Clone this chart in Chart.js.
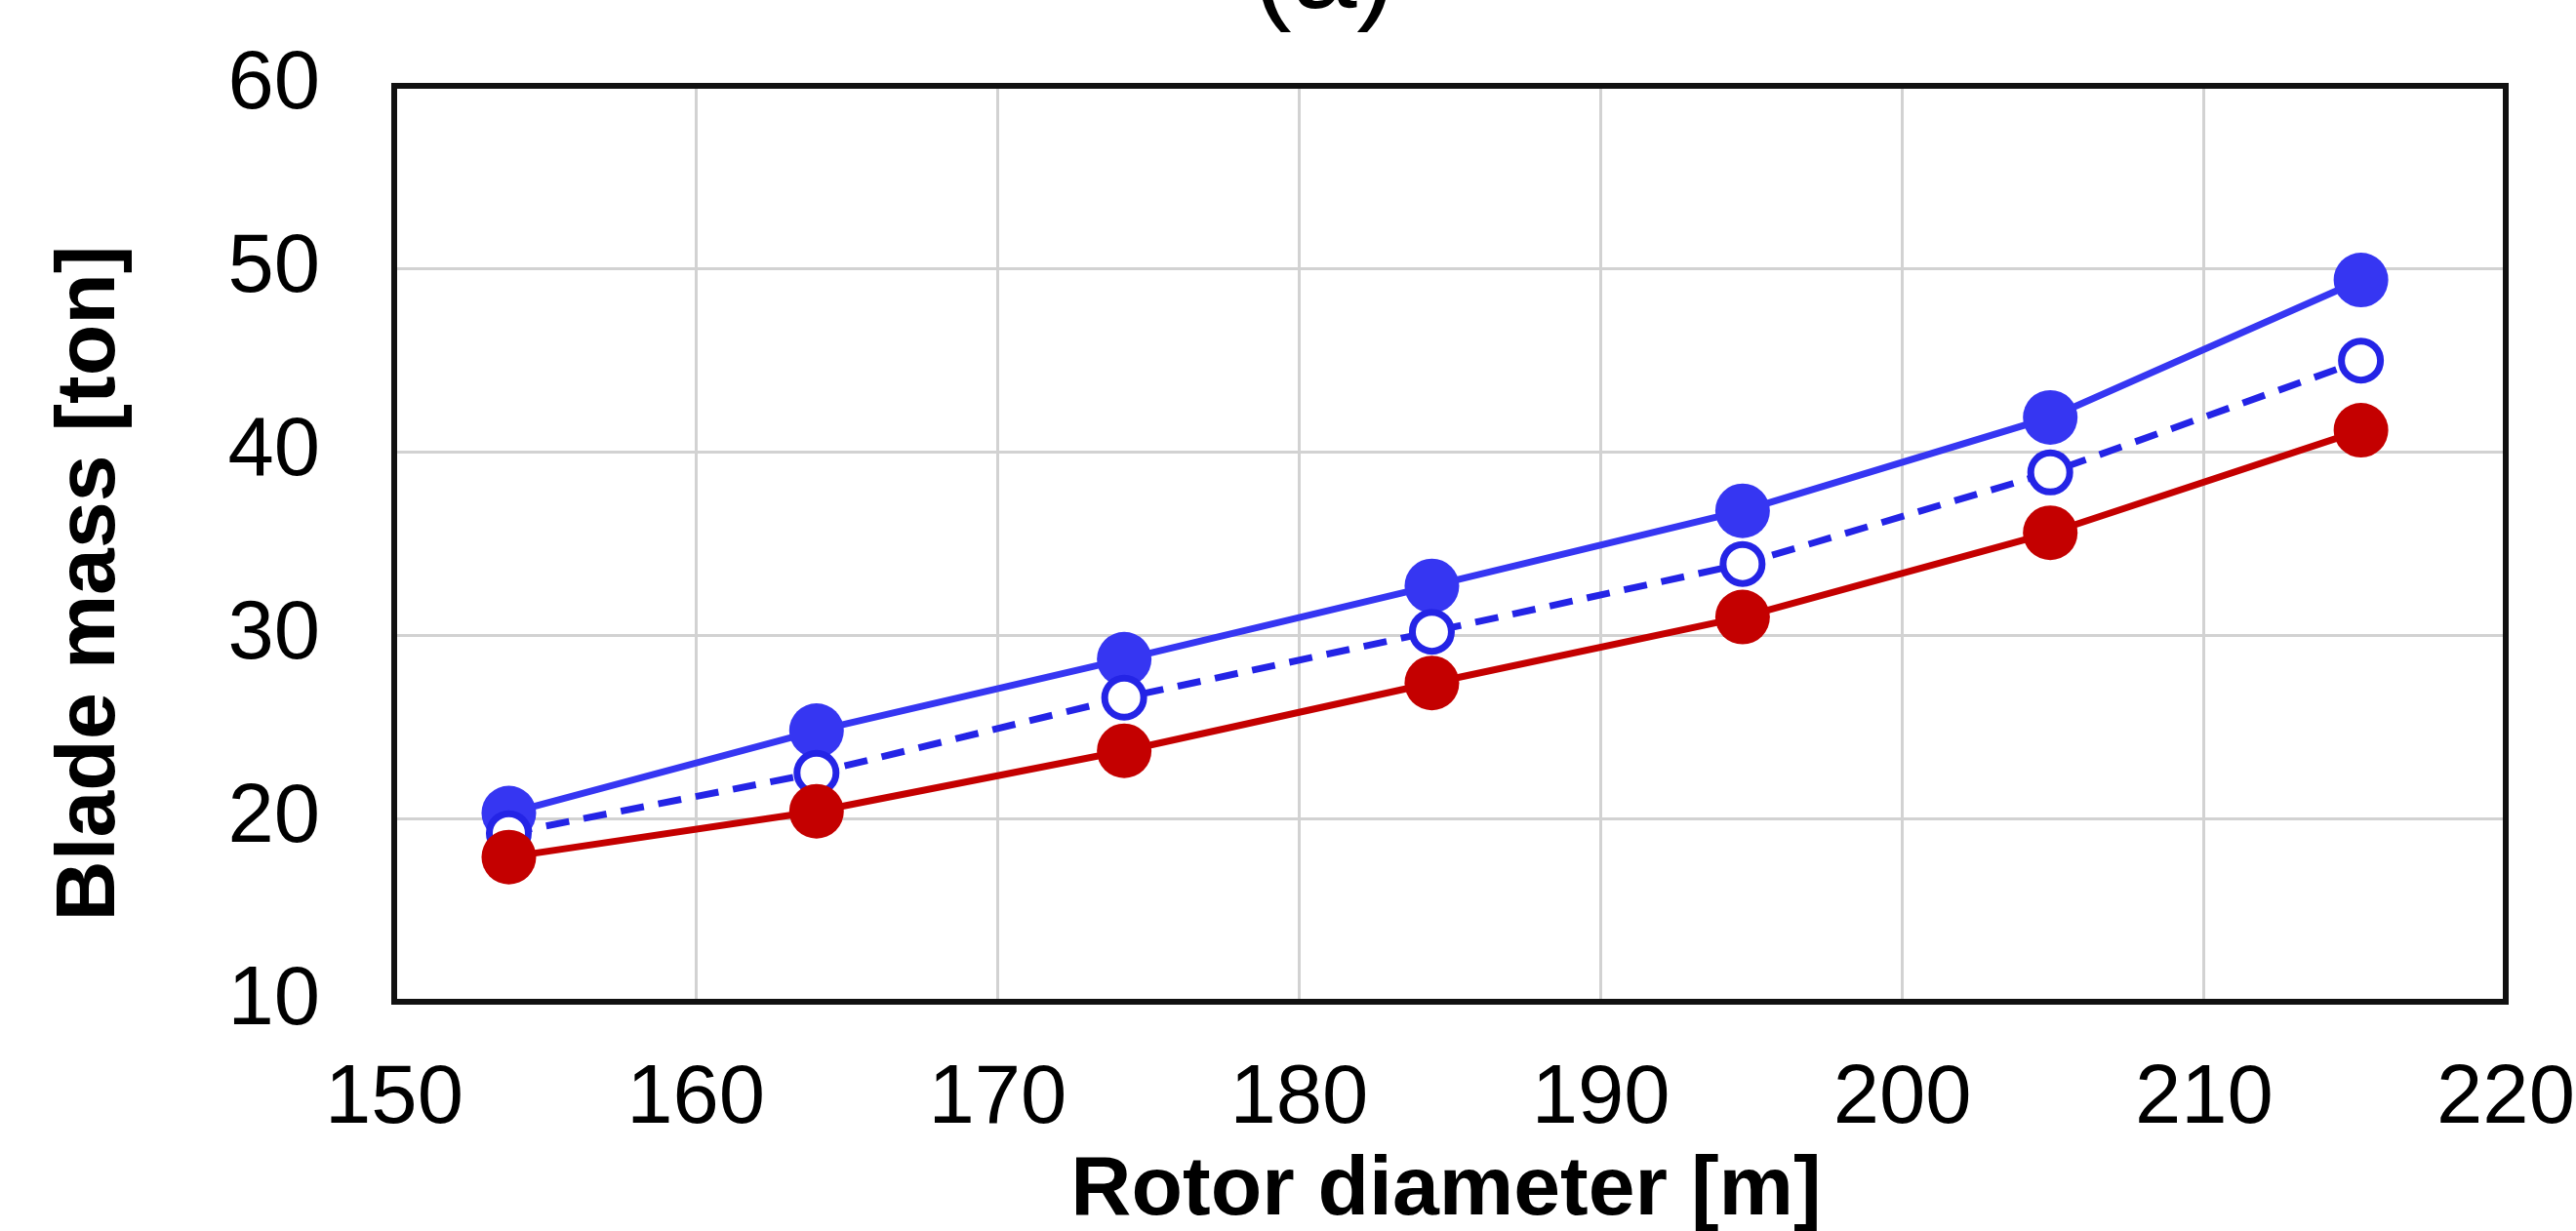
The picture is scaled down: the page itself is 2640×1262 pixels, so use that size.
<!DOCTYPE html>
<html>
<head>
<meta charset="utf-8">
<script src="https://cdn.jsdelivr.net/npm/chart.js@4.4.0/dist/chart.umd.min.js"></script>
<style>
  html, body { margin: 0; padding: 0; background: #fff; overflow: hidden; }
  .chart__wrapper { width: 2640px; height: 1262px; }
  canvas { display: block; }
</style>
</head>
<body>
<div class="chart__wrapper"><canvas id="blade-mass-chart" width="2640" height="1262"></canvas></div>
<script>
// values
const rotorDiameter = [153.8, 164.0, 174.2, 184.4, 194.7, 204.9, 215.2];
const massUpper = [20.3, 24.8, 28.7, 32.7, 36.8, 41.9, 49.4];
const massMiddle = [19.2, 22.5, 26.6, 30.2, 33.9, 38.9, 45.0];
const massLower = [17.9, 20.4, 23.7, 27.4, 31.0, 35.6, 41.2];
const xTicks = [150, 160, 170, 180, 190, 200, 210, 220];
const yTicks = [10, 20, 30, 40, 50, 60];
const panelLabel = "(a)";
const xTitle = "Rotor diameter [m]";
const yTitle = "Blade mass [ton]";

const FONT = "'Liberation Sans', Arial, Helvetica, sans-serif";

const colors = {
  blue: "rgba(54, 54, 242, 1)",
  blueDash: "rgba(36, 36, 230, 1)",
  red: "rgba(196, 0, 0, 1)",
  grid: "rgba(210, 210, 210, 1)",
  frame: "rgba(17, 17, 17, 1)",
  text: "rgba(0, 0, 0, 1)",
};

const toPoints = (ys) => rotorDiameter.map((x, i) => ({ x: x, y: ys[i] }));

// frame round the plot area, axis titles and the cropped panel letter
const framePlugin = {
  id: "frame",
  beforeDatasetsDraw(chart) {
    const { ctx, chartArea } = chart;
    ctx.save();
    ctx.strokeStyle = colors.frame;
    ctx.lineWidth = 6;
    ctx.strokeRect(chartArea.left, chartArea.top,
      chartArea.right - chartArea.left, chartArea.bottom - chartArea.top);
    ctx.restore();
  },
  afterDraw(chart) {
    const { ctx, chartArea } = chart;
    ctx.save();
    ctx.fillStyle = colors.text;
    ctx.textAlign = "center";
    ctx.textBaseline = "alphabetic";

    ctx.font = "120px " + FONT;
    ctx.fillText(panelLabel, 1357, 8);

    ctx.font = "bold 86px " + FONT;
    ctx.fillText(xTitle, (chartArea.left + chartArea.right) / 2 - 4, 1245);

    ctx.textBaseline = "middle";
    ctx.translate(93, 598);
    ctx.rotate(-Math.PI / 2);
    ctx.fillText(yTitle, 0, 0);
    ctx.restore();
  },
};

const chartElement = document.getElementById("blade-mass-chart").getContext("2d");

new Chart(chartElement, {
  type: "line",
  data: {
    datasets: [
      {
        label: "lower",
        data: toPoints(massLower),
        borderColor: colors.red,
        backgroundColor: colors.red,
        borderWidth: 7,
        pointRadius: 28,
        pointHoverRadius: 28,
        pointBorderWidth: 0,
        pointBackgroundColor: colors.red,
        order: 0,
      },
      {
        label: "middle",
        data: toPoints(massMiddle),
        borderColor: colors.blueDash,
        backgroundColor: colors.blueDash,
        borderWidth: 7,
        borderDash: [24, 15],
        pointRadius: 20,
        pointHoverRadius: 20,
        pointBorderWidth: 7,
        pointBorderColor: colors.blueDash,
        pointBackgroundColor: "#fff",
        order: 1,
      },
      {
        label: "upper",
        data: toPoints(massUpper),
        borderColor: colors.blue,
        backgroundColor: colors.blue,
        borderWidth: 7,
        pointRadius: 28,
        pointHoverRadius: 28,
        pointBorderWidth: 0,
        pointBackgroundColor: colors.blue,
        order: 2,
      },
    ],
  },
  options: {
    responsive: false,
    animation: false,
    devicePixelRatio: 1,
    layout: { padding: { top: 88, right: 72, left: 0, bottom: 0 } },
    plugins: {
      legend: { display: false },
      tooltip: { enabled: false },
    },
    scales: {
      x: {
        type: "linear",
        min: xTicks[0],
        max: xTicks[xTicks.length - 1],
        afterBuildTicks: (scale) => { scale.ticks = xTicks.map((v) => ({ value: v })); },
        ticks: {
          font: { family: FONT, size: 85 },
          color: colors.text,
          padding: 50,
          maxRotation: 0,
        },
        grid: { color: colors.grid, lineWidth: 3, drawTicks: false },
        border: { display: false },
        afterFit: (scale) => {
          scale.height = 235;
          scale.paddingLeft = 0;
          scale.paddingRight = 0;
        },
      },
      y: {
        min: yTicks[0],
        max: yTicks[yTicks.length - 1],
        afterBuildTicks: (scale) => { scale.ticks = yTicks.map((v) => ({ value: v })); },
        ticks: {
          font: { family: FONT, size: 85 },
          color: colors.text,
          padding: 76,
        },
        grid: { color: colors.grid, lineWidth: 3, drawTicks: false },
        border: { display: false },
        afterFit: (scale) => {
          scale.width = 404;
          scale.paddingTop = 0;
          scale.paddingBottom = 0;
        },
      },
    },
  },
  plugins: [framePlugin],
});
</script>
</body>
</html>
